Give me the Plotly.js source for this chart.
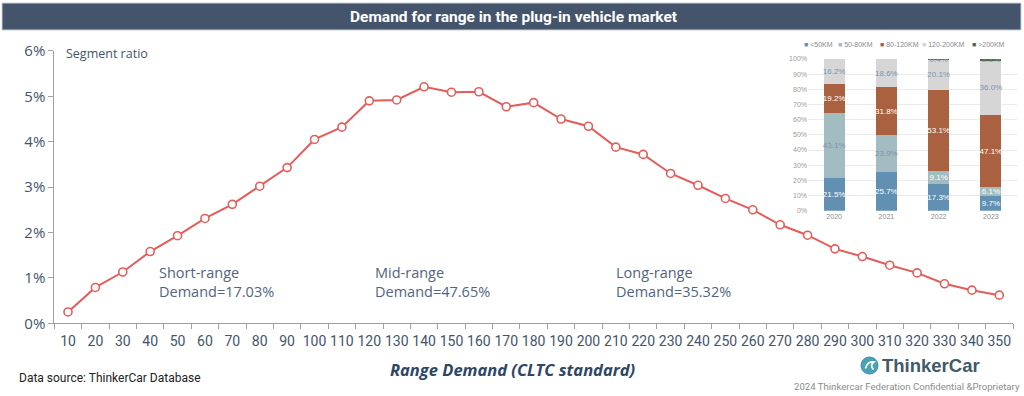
<!DOCTYPE html>
<html>
<head>
<meta charset="utf-8">
<script src="https://cdn.plot.ly/plotly-3.0.1.min.js"></script>
<style>html,body{margin:0;padding:0;background:#fff;}#chart{width:1024px;height:396px;}</style>
</head>
<body>
<div id="chart"></div>
<script>
// ---- Data ----
const rangeCategories = ['10','20','30','40','50','60','70','80','90','100','110','120','130','140','150','160','170','180','190','200','210','220','230','240','250','260','270','280','290','300','310','320','330','340','350'];
const segmentRatio = [0.25,0.79,1.13,1.58,1.93,2.31,2.62,3.02,3.43,4.05,4.32,4.90,4.92,5.21,5.09,5.10,4.77,4.86,4.50,4.34,3.88,3.72,3.30,3.04,2.75,2.50,2.17,1.94,1.64,1.47,1.28,1.11,0.87,0.73,0.62];
const segmentNames = ['Short-range','Mid-range','Long-range'];
const segmentShares = ['17.03','47.65','35.32'];
const segmentBoundaries = ['100','200'];

const insetYears = ['2020','2021','2022','2023'];
const insetSeriesNames = ['<50KM','50-80KM','80-120KM','120-200KM','>200KM'];
const shareUnder50 = [21.5,25.7,17.3,9.7];
const share50to80 = [43.1,23.9,9.1,6.1];
const share80to120 = [19.2,31.8,53.1,47.1];
const share120to200 = [16.2,18.6,20.1,36.0];
const shareOver200 = [0,0,0.4,1.1];

// ---- Helpers ----
const W = 1024, H = 396;
const px = x => x / W;
const py = y => 1 - y / H;
const ROBOTO = 'Roboto, "Liberation Sans", sans-serif';
const SANS = '"Open Sans", "Noto Sans", sans-serif';
const SMALL = 'Arial, "Liberation Sans", sans-serif';
const SLATE = '#44546a';
const RED = '#e35d5b';

const insetSeries = [shareUnder50, share50to80, share80to120, share120to200, shareOver200];
const insetColors = ['#6190b3','#a3bcc2','#a9613f','#d6d6d6','#4f6b4f'];
const insetTextColors = [
  ['#ffffff','#ffffff','#ffffff','#ffffff'],
  ['#7d93ad','#7d93ad','#ffffff','#ffffff'],
  ['#ffffff','#ffffff','#ffffff','#ffffff'],
  ['#7d93ad','#7d93ad','#7d93ad','#7d93ad'],
  ['#7d93ad','#7d93ad','#7d93ad','#7d93ad']
];

const traces = [];
traces.push({
  type: 'scatter', mode: 'lines+markers',
  x: rangeCategories, y: segmentRatio,
  xaxis: 'x', yaxis: 'y',
  line: {color: RED, width: 2},
  marker: {symbol: 'circle', size: 8, color: '#ffffff', line: {color: RED, width: 1.6}},
  showlegend: false, hoverinfo: 'skip', cliponaxis: false
});
insetSeries.forEach((vals, i) => {
  traces.push({
    type: 'bar', name: insetSeriesNames[i],
    x: insetYears, y: vals,
    xaxis: 'x2', yaxis: 'y2',
    marker: {color: insetColors[i], line: {width: 0}},
    text: vals.map(v => v ? v.toFixed(1) + '%' : ''),
    texttemplate: '%{text}',
    textposition: 'inside', insidetextanchor: 'middle',
    textangle: 0, constraintext: 'none',
    textfont: {family: SMALL, size: 8, color: insetTextColors[i]},
    showlegend: false, hoverinfo: 'skip'
  });
});

const shapes = [
  {type: 'rect', xref: 'paper', yref: 'paper', x0: px(2), x1: px(1021), y0: py(3), y1: py(30),
   fillcolor: SLATE, line: {color: '#c9ced6', width: 1}, layer: 'below'}
];
segmentBoundaries.forEach(c => {
  const idx = rangeCategories.indexOf(c);
  shapes.push({type: 'line', xref: 'x', yref: 'y', x0: c, x1: c, y0: 0, y1: segmentRatio[idx],
    line: {color: SLATE, width: 1, dash: 'dot'}, layer: 'below'});
});
shapes.push({type: 'circle', xref: 'paper', yref: 'paper', x0: px(861), x1: px(878), y0: py(374), y1: py(357),
  fillcolor: '#4aa3b5', line: {color: '#3d8fa3', width: 1}});
shapes.push({type: 'path', xref: 'paper', yref: 'paper',
  path: `M ${px(865.5)} ${py(368.5)} Q ${px(867.5)} ${py(361)} ${px(874)} ${py(362)} Q ${px(869.5)} ${py(365)} ${px(873.5)} ${py(369.5)}`,
  line: {color: '#ffffff', width: 1.7}});

const annotations = [];
const segX = [157, 373, 614];
segmentNames.forEach((n, i) => {
  annotations.push({xref: 'paper', yref: 'paper', x: px(segX[i]), y: py(282), xanchor: 'left', yanchor: 'middle',
    align: 'left', showarrow: false, text: n + '<br>Demand=' + segmentShares[i] + '%',
    font: {family: SANS, size: 14.5, color: '#52647e'}});
});
annotations.push({xref: 'paper', yref: 'paper', x: px(513), y: py(17), xanchor: 'center', yanchor: 'middle', showarrow: false,
  text: '<b>Demand for range in the plug-in vehicle market</b>', font: {family: ROBOTO, size: 15.5, color: '#ffffff'}});
annotations.push({xref: 'paper', yref: 'paper', x: px(64), y: py(54), xanchor: 'left', yanchor: 'middle', showarrow: false,
  text: 'Segment ratio', font: {family: SANS, size: 12.5, color: SLATE}});
annotations.push({xref: 'paper', yref: 'paper', x: px(512), y: py(369), xanchor: 'center', yanchor: 'middle', showarrow: false,
  text: '<b><i>Range Demand (CLTC standard)</i></b>', font: {family: SANS, size: 16.5, color: '#2e4666'}});
annotations.push({xref: 'paper', yref: 'paper', x: px(17), y: py(378), xanchor: 'left', yanchor: 'middle', showarrow: false,
  text: 'Data source: ThinkerCar Database', font: {family: ROBOTO, size: 12, color: '#222222'}});
annotations.push({xref: 'paper', yref: 'paper', x: px(880), y: py(365.5), xanchor: 'left', yanchor: 'middle', showarrow: false,
  text: '<b>ThinkerCar</b>', font: {family: '"Liberation Sans", Arial, sans-serif', size: 18.5, color: '#3f5a68'}});
annotations.push({xref: 'paper', yref: 'paper', x: px(1022), y: py(386), xanchor: 'right', yanchor: 'middle', showarrow: false,
  text: '2024 Thinkercar Federation Confidential &amp;Proprietary', font: {family: ROBOTO, size: 9.6, color: '#8c8c8c'}});
const legX = [802, 836, 878, 920, 970];
insetSeriesNames.forEach((n, i) => {
  annotations.push({xref: 'paper', yref: 'paper', x: px(legX[i]), y: py(44), xanchor: 'left', yanchor: 'middle', showarrow: false,
    text: '<span style="color:' + insetColors[i] + '">■</span> ' + n.replace('<', '&lt;').replace('>', '&gt;'),
    font: {family: SMALL, size: 7, color: '#8a8a8a'}});
});

const layout = {
  width: W, height: H,
  margin: {l: 0, r: 0, t: 0, b: 0},
  paper_bgcolor: '#ffffff', plot_bgcolor: 'rgba(0,0,0,0)',
  showlegend: false,
  barmode: 'stack', bargap: 0.6,
  xaxis: {
    type: 'category', domain: [px(54.3), px(1013)], range: [-0.5, 34.5], anchor: 'y',
    showline: true, linecolor: '#a0a0a0', linewidth: 1,
    ticks: 'outside', tickson: 'boundaries', ticklen: 5, tickcolor: '#a0a0a0',
    showgrid: false, zeroline: false, tickangle: 0, ticklabelstandoff: 5,
    tickfont: {family: ROBOTO, size: 14, color: SLATE},
    fixedrange: true
  },
  yaxis: {
    domain: [py(323.3), py(50.9)], range: [0, 6], dtick: 1, ticksuffix: '%', anchor: 'x',
    showline: true, linecolor: '#a0a0a0', linewidth: 1,
    ticks: 'outside', ticklen: 5, tickcolor: '#a0a0a0',
    showgrid: false, zeroline: false,
    tickfont: {family: SANS, size: 15, color: SLATE},
    fixedrange: true
  },
  xaxis2: {
    type: 'category', domain: [px(808), px(1017)], anchor: 'y2',
    showline: false, ticks: '', showgrid: false, zeroline: false,
    tickfont: {family: SMALL, size: 7, color: '#8a8a8a'},
    fixedrange: true
  },
  yaxis2: {
    domain: [py(210.7), py(59)], range: [0, 100], dtick: 10, ticksuffix: '%', anchor: 'x2',
    showline: false, ticks: '', showgrid: true, gridcolor: '#ebebeb', gridwidth: 1, zeroline: false,
    tickfont: {family: SMALL, size: 7, color: '#9a9a9a'},
    fixedrange: true
  },
  shapes: shapes,
  annotations: annotations
};

Plotly.newPlot('chart', traces, layout, {displayModeBar: false, staticPlot: true});
</script>
</body>
</html>
